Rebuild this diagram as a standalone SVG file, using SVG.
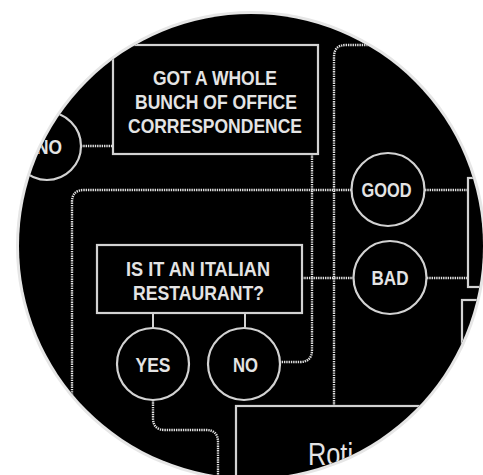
<svg xmlns="http://www.w3.org/2000/svg" width="483" height="475" viewBox="0 0 483 475">
<defs>
<clipPath id="disk"><circle cx="251" cy="246" r="232"/></clipPath>
<style>
.box{fill:none;stroke:#d2d2d2;stroke-width:2.2}
.node{fill:none;stroke:#d2d2d2;stroke-width:2.2}
.dot{fill:none;stroke:#e0e0e0;stroke-width:2.4;stroke-dasharray:1.4 0.9}
.tick{fill:none;stroke:#d2d2d2;stroke-width:2}
.lbl{font-family:"Liberation Sans",Arial,sans-serif;font-weight:bold;font-size:19.5px;fill:#e4e4e4;text-anchor:middle}
.big{font-family:"Liberation Sans",Arial,sans-serif;font-size:32px;fill:#e4e4e4}
</style>
</defs>
<rect width="483" height="475" fill="#ffffff"/>
<circle cx="251" cy="246" r="235" fill="#e6e6e6"/>
<circle cx="251" cy="246" r="232" fill="#000000"/>
<g clip-path="url(#disk)">
<g id="connectors">
<path class="dot" d="M81,146 H113"/>
<path class="dot" d="M312,154 V350 Q312,362 300,362 H280"/>
<path class="dot" d="M72,480 V202 Q72,190 84,190 H351"/>
<path class="dot" d="M334,406 V57 Q334,45 346,45 H500"/>
<path class="dot" d="M302,278 H353"/>
<path class="dot" d="M425,190 H468"/>
<path class="dot" d="M427,278 H468"/>
<path class="tick" d="M153,313 V328"/>
<path class="tick" d="M245,313 V328"/>
<path class="dot" d="M153,400 V418 Q153,430 165,430 H206 Q218,430 218,442 V480"/>
</g>
<g id="no-left">
<circle class="node" cx="47" cy="146" r="34"/>
<text class="lbl" x="49" y="154" textLength="26" lengthAdjust="spacingAndGlyphs">NO</text>
</g>
<g id="office">
<rect class="box" x="113" y="45" width="205" height="109"/>
<text class="lbl" x="215" y="84.5" textLength="124" lengthAdjust="spacingAndGlyphs">GOT A WHOLE</text>
<text class="lbl" x="216" y="108.5" textLength="162" lengthAdjust="spacingAndGlyphs">BUNCH OF OFFICE</text>
<text class="lbl" x="215" y="132.5" textLength="174" lengthAdjust="spacingAndGlyphs">CORRESPONDENCE</text>
</g>
<g id="good">
<circle class="node" cx="388" cy="189.5" r="36.5"/>
<text class="lbl" x="386.5" y="197" textLength="50" lengthAdjust="spacingAndGlyphs">GOOD</text>
</g>
<g id="bad">
<circle class="node" cx="390" cy="277.5" r="36.5"/>
<text class="lbl" x="390" y="285" textLength="37" lengthAdjust="spacingAndGlyphs">BAD</text>
</g>
<g id="right-box-1">
<rect class="box" x="468" y="178" width="60" height="109"/>
</g>
<g id="right-box-2">
<rect class="box" x="462" y="300" width="60" height="120"/>
</g>
<g id="italian">
<rect class="box" x="97" y="245" width="205" height="68"/>
<text class="lbl" x="198" y="276" textLength="144" lengthAdjust="spacingAndGlyphs">IS IT AN ITALIAN</text>
<text class="lbl" x="198.5" y="300" textLength="131" lengthAdjust="spacingAndGlyphs">RESTAURANT?</text>
</g>
<g id="yes">
<circle class="node" cx="153" cy="364" r="36"/>
<text class="lbl" x="153" y="372" textLength="35" lengthAdjust="spacingAndGlyphs">YES</text>
</g>
<g id="no">
<circle class="node" cx="244" cy="364" r="36"/>
<text class="lbl" x="245.5" y="371.5" textLength="25" lengthAdjust="spacingAndGlyphs">NO</text>
</g>
<g id="roti">
<rect class="box" x="236" y="406" width="300" height="120" stroke-width="3"/>
<text class="big" x="308" y="464.5" textLength="45" lengthAdjust="spacingAndGlyphs">Roti</text>
</g>
</g>
</svg>
